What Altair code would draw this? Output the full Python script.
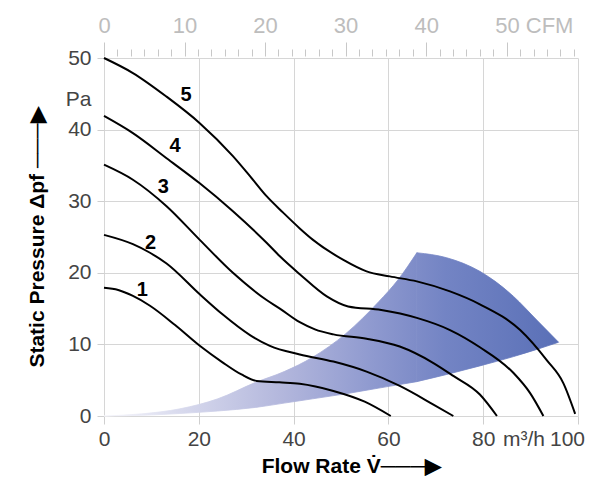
import altair as alt
import pandas as pd

# ---- data ----
c1_x = [0, 3, 6, 9.7, 15, 20.2, 25, 29, 32.2, 37, 41.3, 48.4, 55, 60.5]
c1_y = [17.9, 17.6, 16.8, 15.4, 12.7, 9.8, 7.5, 5.8, 4.9, 4.7, 4.5, 3.5, 2.0, 0.0]
c2_x = [0, 6.1, 9.7, 13.2, 20.2, 25, 30.8, 35, 41.3, 48.4, 55.4, 62.4, 69.5, 73.7]
c2_y = [25.3, 24.0, 22.8, 21.3, 17.0, 14.2, 11.3, 9.8, 8.6, 7.6, 6.2, 4.2, 1.6, 0.0]
c3_x = [0, 6.1, 13.2, 20.2, 27.2, 34.3, 37.1, 41.3, 44.5, 48.4, 55.4, 62.4, 69.5, 73.7, 79.3, 82.9]
c3_y = [35.1, 33.0, 29.3, 24.6, 20.0, 16.2, 15.0, 13.1, 12.1, 11.4, 10.8, 9.7, 7.4, 5.6, 3.0, 0.0]
c4_x = [0, 6.1, 13.2, 20.2, 27.2, 34.3, 37.1, 41.3, 47, 51.5, 58.5, 66, 73, 79.3, 86.4, 89.9, 92.7]
c4_y = [41.9, 39.5, 36.0, 32.5, 28.6, 24.2, 22.3, 19.8, 16.7, 15.3, 14.8, 13.7, 12.0, 9.6, 6.0, 3.2, 0.0]
c5_x = [0, 6.1, 13.2, 20.2, 27.2, 30.8, 34.3, 37.8, 41.3, 44.1, 50.5, 55.4, 60.3, 66, 73, 79.3, 87.8, 93.4, 96.9, 99.4]
c5_y = [50.0, 47.9, 44.6, 40.9, 36.3, 33.5, 30.7, 28.4, 26.2, 24.6, 21.8, 20.2, 19.5, 18.8, 17.4, 15.6, 12.0, 7.8, 4.6, 0.3]

label_text = ["1", "2", "3", "4", "5"]
label_x = [8.1, 9.8, 12.5, 15.0, 17.3]
label_y = [17.6, 24.2, 32.0, 37.7, 44.9]

# operating range (shaded region): rising edge part and outer arc part
zoneA_x = [0, 8, 16, 24, 32, 38, 44, 51, 58, 62, 66]
zoneA_top = [0, 0.3, 1.0, 2.4, 4.7, 6.2, 8.2, 11.5, 16.0, 19.0, 22.8]
zoneA_bottom = [0, 0.1, 0.35, 0.7, 1.2, 1.8, 2.4, 3.1, 3.9, 4.35, 4.8]
zoneB_x = [66, 72.3, 79.3, 86.4, 91.3, 95.9]
zoneB_top = [22.8, 22.1, 20.2, 16.7, 13.4, 10.3]
zoneB_bottom = [4.8, 5.8, 7.0, 8.3, 9.3, 10.3]

x_ticks = [0, 20, 40, 60, 80, 88.5, 100]
y_ticks = [0, 10, 20, 30, 40, 44.2, 50]
cfm_ticks = [round(i * 10 / 6, 4) for i in range(36)]
CFM_MAX = 100 / 1.699

# ---- tables ----
rows = []
for name, xs, ys in [("1", c1_x, c1_y), ("2", c2_x, c2_y), ("3", c3_x, c3_y),
                     ("4", c4_x, c4_y), ("5", c5_x, c5_y)]:
    for a, b in zip(xs, ys):
        rows.append({"curve": name, "flow": a, "pressure": b})
curves = pd.DataFrame(rows)
labels = pd.DataFrame({"t": label_text, "flow": label_x, "pressure": label_y})
zoneA = pd.DataFrame({"flow": zoneA_x, "top": zoneA_top, "bottom": zoneA_bottom})
zoneB = pd.DataFrame({"flow": zoneB_x, "top": zoneB_top, "bottom": zoneB_bottom})
cfm = pd.DataFrame({"cfm": cfm_ticks})

# ---- colour ramp along flow (style) ----
ramp = [(0, "#f6f6fb"), (19, "#d3d5eb"), (38, "#b2b6dc"), (57, "#8e99cf"),
        (72, "#7384c4"), (96, "#5a70b7")]


def color_at(x):
    for (x0, c0), (x1, c1) in zip(ramp[:-1], ramp[1:]):
        if x0 <= x <= x1:
            t = (x - x0) / (x1 - x0)
            a = [int(c0[i:i + 2], 16) for i in (1, 3, 5)]
            b = [int(c1[i:i + 2], 16) for i in (1, 3, 5)]
            return "#" + "".join(f"{round(p + (q - p) * t):02x}" for p, q in zip(a, b))
    return ramp[-1][1]


def gradient_for(lo, hi):
    pts = [lo] + [x for x, _ in ramp if lo < x < hi] + [hi]
    return alt.Gradient(
        gradient="linear", x1=0, x2=1, y1=0, y2=0,
        stops=[alt.GradientStop(color=color_at(x), offset=(x - lo) / (hi - lo)) for x in pts],
    )


FONT = "Liberation Sans"
xscale = alt.Scale(domain=[0, 100], nice=False, zero=False)
yscale = alt.Scale(domain=[0, 50], nice=False)

x_axis = alt.Axis(
    values=x_ticks,
    labelExpr="datum.value == 88.5 ? 'm³/h' : datum.label",
    title="Flow Rate V̇───▶",
    titleFontSize=21, titleFontWeight="bold", titleColor="#000",
    titleX=247, titleY=50, titleBaseline="middle", titleAlign="center",
    labelFontSize=21, labelColor="#444", labelPadding=4,
    labelOffset={"condition": {"test": "datum.value == 100", "value": -11}, "value": 0},
    tickSize=8,
    tickColor={"condition": {"test": "datum.value == 88.5", "value": "transparent"}, "value": "#cfcfcf"},
    gridColor={"condition": {"test": "datum.value == 88.5", "value": "transparent"}, "value": "#d6d6d6"},
    domain=False, labelFlush=False, labelOverlap=False,
)
y_axis = alt.Axis(
    values=y_ticks,
    labelExpr="datum.value == 44.2 ? 'Pa' : datum.label",
    title="Static Pressure Δpf ───▶",
    titleFontSize=21, titleFontWeight="bold", titleColor="#000",
    titleX=-67, titleY=179, titleBaseline="middle", titleAlign="center", titleAngle=-90,
    labelFontSize=21, labelColor="#444", labelPadding=6,
    tickSize=7,
    tickColor={"condition": {"test": "datum.value == 44.2", "value": "transparent"}, "value": "#cfcfcf"},
    gridColor={"condition": {"test": "datum.value == 44.2", "value": "transparent"}, "value": "#d6d6d6"},
    domain=False,
)

gA = gradient_for(min(zoneA_x), max(zoneA_x))
gB = gradient_for(min(zoneB_x), max(zoneB_x))
areaA = alt.Chart(zoneA).mark_area(color=gA, stroke=gA, strokeWidth=0.8, interpolate="monotone").encode(
    x=alt.X("flow:Q", scale=xscale, axis=x_axis),
    y=alt.Y("top:Q", scale=yscale, axis=y_axis),
    y2="bottom:Q",
)
areaB = alt.Chart(zoneB).mark_area(color=gB, stroke=gB, strokeWidth=0.8, interpolate="monotone").encode(
    x=alt.X("flow:Q", scale=xscale),
    y=alt.Y("top:Q", scale=yscale),
    y2="bottom:Q",
)
lines = alt.Chart(curves).mark_line(color="black", strokeWidth=2, interpolate="monotone").encode(
    x=alt.X("flow:Q", scale=xscale),
    y=alt.Y("pressure:Q", scale=yscale),
    detail="curve:N",
)
texts = alt.Chart(labels).mark_text(
    font=FONT, fontSize=20, fontWeight="bold", color="#000", align="center", baseline="middle"
).encode(
    x=alt.X("flow:Q", scale=xscale),
    y=alt.Y("pressure:Q", scale=yscale),
    text="t:N",
)
main = alt.layer(areaA, areaB, lines, texts)

major_test = "abs(datum.value - round(datum.value / 10) * 10) < 0.01"
is50 = "round(datum.value) == 50 && " + major_test
top = alt.Chart(cfm).mark_point(opacity=0).encode(
    x=alt.X("cfm:Q", scale=alt.Scale(domain=[0, CFM_MAX], nice=False, zero=False),
            axis=alt.Axis(
                orient="top", values=cfm_ticks, title=None, grid=False, domain=False,
                labelExpr=major_test + " ? (round(datum.value) == 50 ? '50 CFM' : format(round(datum.value), 'd')) : ''",
                labelFontSize=22, labelColor="#bdbdbd", labelPadding=5,
                labelAlign={"condition": {"test": is50, "value": "left"}, "value": "center"},
                labelOffset={"condition": {"test": is50, "value": -12}, "value": 0},
                tickColor="#c8c8c8", tickWidth=1,
                tickSize={"condition": {"test": major_test, "value": 14}, "value": 7},
                offset=2, labelOverlap=False,
            )),
)

chart = alt.layer(main, top).resolve_scale(x="independent").properties(
    width=474, height=358,
    padding={"left": 96, "top": 50, "right": 7, "bottom": 60},
    autosize=alt.AutoSizeParams(type="none"),
).configure(font=FONT).configure_view(stroke=None)

chart.save("out.html", embed_options={"renderer": "svg", "actions": False})
